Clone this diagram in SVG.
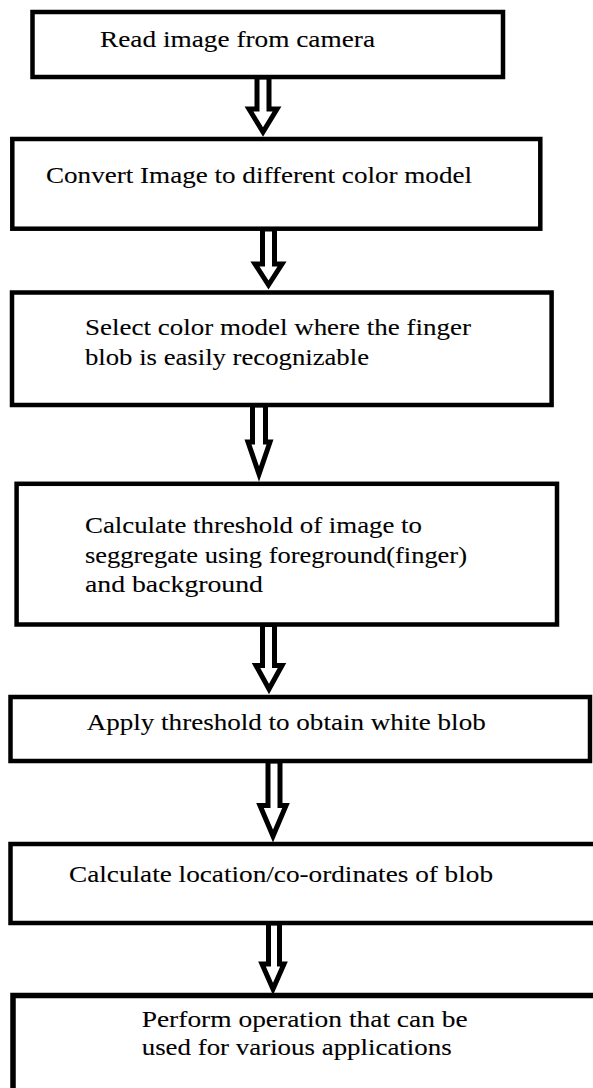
<svg xmlns="http://www.w3.org/2000/svg" width="593" height="1088" viewBox="0 0 593 1088">
<style>
  .box { fill: #ffffff; stroke: #000000; stroke-width: 4.5; }
  .arrow { fill: #ffffff; stroke: #000000; stroke-width: 5; stroke-linejoin: miter; stroke-miterlimit: 6; }
  .lbl { font-family: "Liberation Serif", "Times New Roman", serif; font-size: 23.5px; fill: #000000; stroke: #000000; stroke-width: 0.1; }
</style>
<rect x="0" y="0" width="593" height="1088" fill="#ffffff"/>
<g id="connectors">
  <path class="arrow" d="M257,77 L269,77 L269,109 L277,109 L263,132 L249,109 L257,109 Z"/>
  <path class="arrow" d="M262.5,229 L274.5,229 L274.5,264 L282,264 L268.5,285 L255,264 L262.5,264 Z"/>
  <path class="arrow" d="M252.5,405 L265.5,405 L265.5,442 L270,442 L259,474 L248,442 L252.5,442 Z"/>
  <path class="arrow" d="M262.5,624.5 L274.5,624.5 L274.5,665.5 L282,665.5 L269,689 L256,665.5 L262.5,665.5 Z"/>
  <path class="arrow" d="M268,761 L280,761 L280,805.5 L286,805.5 L273,836 L260,805.5 L268,805.5 Z"/>
  <path class="arrow" d="M268.5,923 L279.5,923 L279.5,964 L284,964 L273,989 L262,964 L268.5,964 Z"/>
</g>
<g id="node1">
  <rect class="box" x="32.5" y="12" width="470.5" height="65"/>
  <text class="lbl" x="100" y="47" textLength="275" lengthAdjust="spacingAndGlyphs">Read image from camera</text>
</g>
<g id="node2">
  <rect class="box" x="12.3" y="139" width="528" height="89.7"/>
  <text class="lbl" x="46" y="183" textLength="426" lengthAdjust="spacingAndGlyphs">Convert Image to different color model</text>
</g>
<g id="node3">
  <rect class="box" x="12" y="292.5" width="539.6" height="112.5"/>
  <text class="lbl" x="85" y="335" textLength="386" lengthAdjust="spacingAndGlyphs">Select color model where the finger</text>
  <text class="lbl" x="85" y="364.5" textLength="284" lengthAdjust="spacingAndGlyphs">blob is easily recognizable</text>
</g>
<g id="node4">
  <rect class="box" x="16.6" y="483.8" width="540.4" height="140.7"/>
  <text class="lbl" x="85" y="533" textLength="337" lengthAdjust="spacingAndGlyphs">Calculate threshold of image to</text>
  <text class="lbl" x="85" y="562.7" textLength="382" lengthAdjust="spacingAndGlyphs">seggregate using foreground(finger)</text>
  <text class="lbl" x="85" y="591.7" textLength="178" lengthAdjust="spacingAndGlyphs">and background</text>
</g>
<g id="node5">
  <rect class="box" x="10.5" y="697" width="579.5" height="64"/>
  <text class="lbl" x="86.7" y="730" textLength="399" lengthAdjust="spacingAndGlyphs">Apply threshold to obtain white blob</text>
</g>
<g id="node6">
  <rect class="box" x="10.5" y="844" width="600" height="79"/>
  <text class="lbl" x="69" y="881.7" textLength="424" lengthAdjust="spacingAndGlyphs">Calculate location/co-ordinates of blob</text>
</g>
<g id="node7">
  <rect class="box" x="13" y="995.5" width="600" height="120" style="stroke-width:5.5"/>
  <text class="lbl" x="141.7" y="1026.7" textLength="326" lengthAdjust="spacingAndGlyphs">Perform operation that can be</text>
  <text class="lbl" x="141.7" y="1055" textLength="310" lengthAdjust="spacingAndGlyphs">used for various applications</text>
</g>
</svg>
